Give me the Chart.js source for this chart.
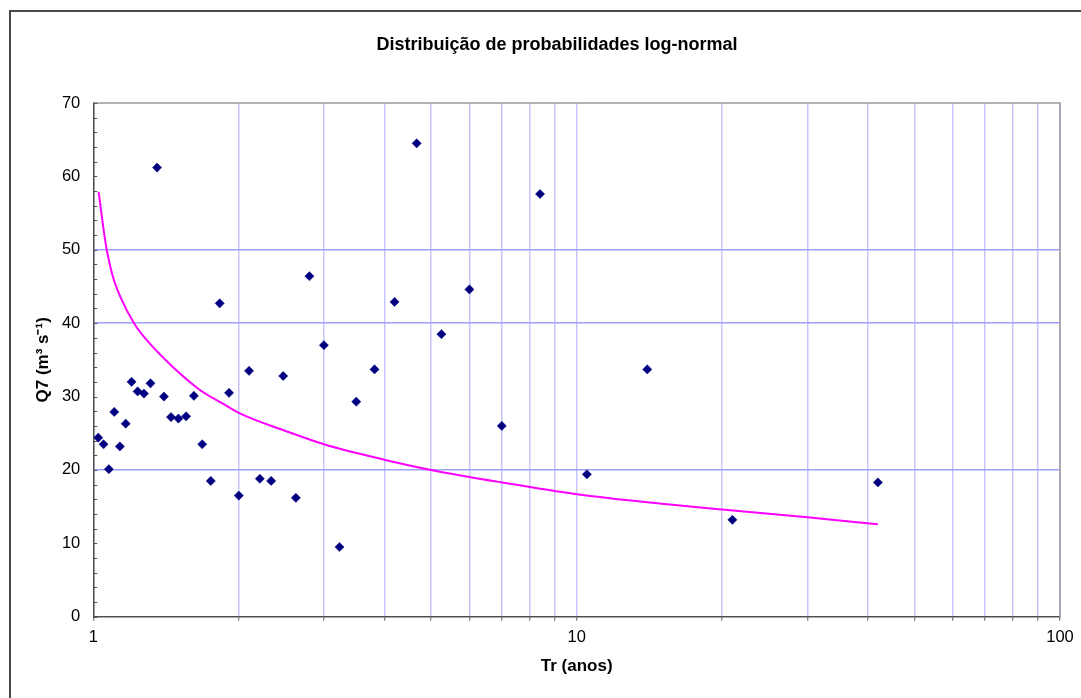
<!DOCTYPE html>
<html>
<head>
<meta charset="utf-8">
<script src="https://cdn.jsdelivr.net/npm/chart.js@4"></script>
<style>
  html, body { margin: 0; padding: 0; background: #ffffff; }
  #wrap { position: relative; width: 1081px; height: 698px; }
</style>
</head>
<body>
<div id="wrap"><canvas id="c"></canvas></div>
<script>
// ---- data ----
const chartTitle = 'Distribuição de probabilidades log-normal';
const xTitle = 'Tr (anos)';
const yTitle = 'Q7 (m³ s⁻¹)';

// observed points: return period (years) and Q7 (m3/s)
const obsTr = [1.024, 1.050, 1.077, 1.105, 1.135, 1.167, 1.200, 1.235, 1.273, 1.313,
               1.355, 1.400, 1.448, 1.500, 1.556, 1.615, 1.680, 1.750, 1.826, 1.909,
               2.000, 2.100, 2.211, 2.333, 2.471, 2.625, 2.800, 3.000, 3.231, 3.500,
               3.818, 4.200, 4.667, 5.250, 6.000, 7.000, 8.400, 10.50, 14.00, 21.00, 42.00];
const obsQ  = [24.4, 23.5, 20.1, 27.9, 23.2, 26.3, 32.0, 30.7, 30.4, 31.8,
               61.2, 30.0, 27.2, 27.0, 27.3, 30.1, 23.5, 18.5, 42.7, 30.5,
               16.5, 33.5, 18.8, 18.5, 32.8, 16.2, 46.4, 37.0, 9.5, 29.3,
               33.7, 42.9, 64.5, 38.5, 44.6, 26.0, 57.6, 19.4, 33.7, 13.2, 18.3];

// fitted log-normal curve
const curveTr = [1.026, 1.036, 1.049, 1.066, 1.095, 1.139, 1.214, 1.314, 1.457, 1.662,
                 1.858, 2.01, 2.5, 3, 4, 5, 7, 10, 15, 20, 30, 42];
const curveQ  = [57.9, 55.7, 53.0, 50.0, 46.6, 43.5, 40.0, 37.1, 34.1, 30.9,
                 29.0, 27.7, 25.3, 23.5, 21.4, 20.0, 18.3, 16.7, 15.4, 14.6, 13.55, 12.6];

const xLabelValues = [1, 10, 100];
const yLabelValues = [0, 10, 20, 30, 40, 50, 60, 70];
const yGridValues = [20, 40, 50];

// ---- chart ----
const FONT = '"Liberation Sans", Arial, Helvetica, sans-serif';

const framePlugin = {
  id: 'frame',
  beforeDraw(chart) {
    const ctx = chart.ctx;
    ctx.save();
    ctx.fillStyle = '#ffffff';
    ctx.fillRect(0, 0, chart.width, chart.height);
    ctx.strokeStyle = '#4a4a4a';
    ctx.lineWidth = 2;
    ctx.strokeRect(10, 11, chart.width + 50, chart.height + 50);
    ctx.fillStyle = '#000000';
    ctx.font = 'bold 18px ' + FONT;
    ctx.textAlign = 'center';
    ctx.textBaseline = 'middle';
    ctx.fillText(chartTitle, 557, 45);
    ctx.restore();
  },
  afterDatasetsDraw(chart) {
    const ctx = chart.ctx;
    const a = chart.chartArea;
    const ys = chart.scales.y;
    ctx.save();
    ctx.strokeStyle = '#9a9a9a';
    ctx.lineWidth = 1.5;
    ctx.beginPath();
    ctx.moveTo(a.left, a.top);
    ctx.lineTo(a.right, a.top);
    ctx.lineTo(a.right, a.bottom);
    ctx.stroke();
    // inward minor ticks on y axis
    ctx.strokeStyle = '#555555';
    ctx.lineWidth = 1;
    ctx.beginPath();
    ys.ticks.forEach(t => {
      const py = Math.round(ys.getPixelForValue(t.value)) + 0.5;
      ctx.moveTo(a.left, py);
      ctx.lineTo(a.left + 4, py);
    });
    ctx.stroke();
    ctx.restore();
  }
};

new Chart(document.getElementById('c'), {
  type: 'scatter',
  data: {
    datasets: [
      {
        label: 'Q7',
        data: obsTr.map((t, i) => ({ x: t, y: obsQ[i] })),
        pointStyle: 'rectRot',
        pointRadius: 4.6,
        pointHoverRadius: 4.6,
        backgroundColor: '#000080',
        borderColor: '#000080',
        borderWidth: 0.5,
        showLine: false
      },
      {
        label: 'log-normal',
        data: curveTr.map((t, i) => ({ x: t, y: curveQ[i] })),
        showLine: true,
        borderColor: '#ff00ff',
        borderWidth: 2,
        pointRadius: 0,
        pointHoverRadius: 0,
        fill: false,
        cubicInterpolationMode: 'monotone'
      }
    ]
  },
  options: {
    responsive: true,
    maintainAspectRatio: false,
    animation: false,
    events: [],
    layout: { padding: { left: 0, right: 21, top: 103, bottom: 0 } },
    plugins: {
      legend: { display: false },
      title: { display: false },
      tooltip: { enabled: false }
    },
    scales: {
      x: {
        type: 'logarithmic',
        position: 'bottom',
        min: 1,
        max: 100,
        afterFit(scale) { scale.height = 81.3; },
        afterBuildTicks(scale) {
          const t = [];
          for (let d = 1; d < 100; d *= 10) {
            for (let k = 1; k < 10; k++) t.push({ value: d * k });
          }
          t.push({ value: 100 });
          scale.ticks = t;
        },
        grid: {
          color: '#c6c6ff',
          lineWidth: 1.5,
          drawTicks: true,
          tickLength: 4,
          tickColor: '#555555',
          tickWidth: 1
        },
        border: { display: true, color: '#505050', width: 1.5 },
        ticks: {
          autoSkip: false,
          maxRotation: 0,
          padding: 7,
          color: '#000000',
          font: { family: FONT, size: 16.5 },
          callback: (v) => xLabelValues.includes(v) ? String(v) : ''
        },
        title: {
          display: true,
          text: xTitle,
          color: '#000000',
          font: { family: FONT, size: 17, weight: 'bold' },
          padding: { top: 21, bottom: 21 }
        }
      },
      y: {
        type: 'linear',
        position: 'left',
        min: 0,
        max: 70,
        afterFit(scale) { scale.width = 93.3; },
        ticks: {
          stepSize: 2,
          autoSkip: false,
          padding: 13,
          color: '#000000',
          font: { family: FONT, size: 16.5 },
          callback: (v) => yLabelValues.includes(v) ? String(v) : ''
        },
        grid: {
          drawTicks: false,
          lineWidth: 1.5,
          color: (c) => (c.tick && yGridValues.includes(c.tick.value)) ? '#a0a0ff' : 'rgba(0,0,0,0)'
        },
        border: { display: true, color: '#505050', width: 1.5 },
        title: {
          display: true,
          text: yTitle,
          color: '#000000',
          font: { family: FONT, size: 17, weight: 'bold' },
          padding: { top: 33, bottom: 33 }
        }
      }
    }
  },
  plugins: [framePlugin]
});
</script>
</body>
</html>
